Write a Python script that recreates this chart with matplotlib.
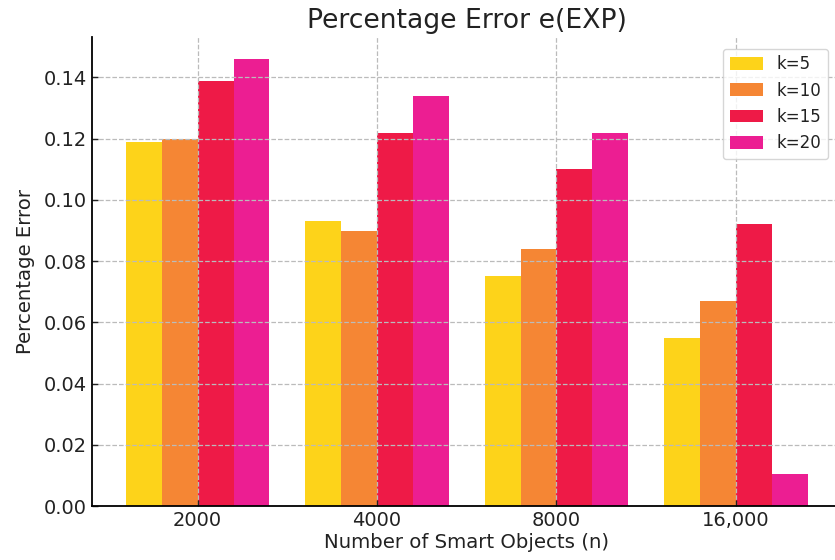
import numpy as np
import matplotlib
matplotlib.use("Agg")
import matplotlib.pyplot as plt

groups = ["2000", "4000", "8000", "16,000"]
labels = ["k=5", "k=10", "k=15", "k=20"]
k5 = [0.119, 0.093, 0.075, 0.055]
k10 = [0.120, 0.090, 0.084, 0.067]
k15 = [0.139, 0.122, 0.110, 0.092]
k20 = [0.146, 0.134, 0.122, 0.0105]
colors = ["#FDD31A", "#F58634", "#EE1A47", "#EC1E92"]

fig = plt.figure(figsize=(8.35, 5.6), dpi=100)
ax = fig.add_axes([0.110, 0.0964, 0.898, 0.838])

x = np.arange(len(groups))
w = 0.2
for i, (vals, lab, c) in enumerate(zip([k5, k10, k15, k20], labels, colors)):
    ax.bar(x + (i - 1.5) * w, vals, w, label=lab, color=c, linewidth=0)

ax.set_xticks(x)
ax.set_xticklabels(groups)
ax.tick_params(direction="in", labelsize=14, length=4, width=1, colors="#222222")
ax.set_xlabel("Number of Smart Objects (n)", fontsize=14.2, labelpad=2, color="#222222")
ax.set_ylabel("Percentage Error", fontsize=14.2, labelpad=6, color="#222222")
ax.set_title("Percentage Error e(EXP)", fontsize=19.2, color="#222222", pad=6)
ax.yaxis.set_major_formatter(matplotlib.ticker.FormatStrFormatter("%.2f"))
ax.grid(True, linestyle="--", color="#bbbbbb", linewidth=0.9)
ax.spines["top"].set_visible(False)
ax.spines["right"].set_visible(False)
ax.spines["left"].set_linewidth(1.3)
ax.spines["bottom"].set_linewidth(1.3)
ax.legend(loc="upper right", fontsize=12, bbox_to_anchor=(0.986, 0.982),
          labelspacing=0.5, handlelength=2.0, handleheight=0.8, borderaxespad=0.2,
          labelcolor="#222222")

plt.savefig("out.png", dpi=100)
